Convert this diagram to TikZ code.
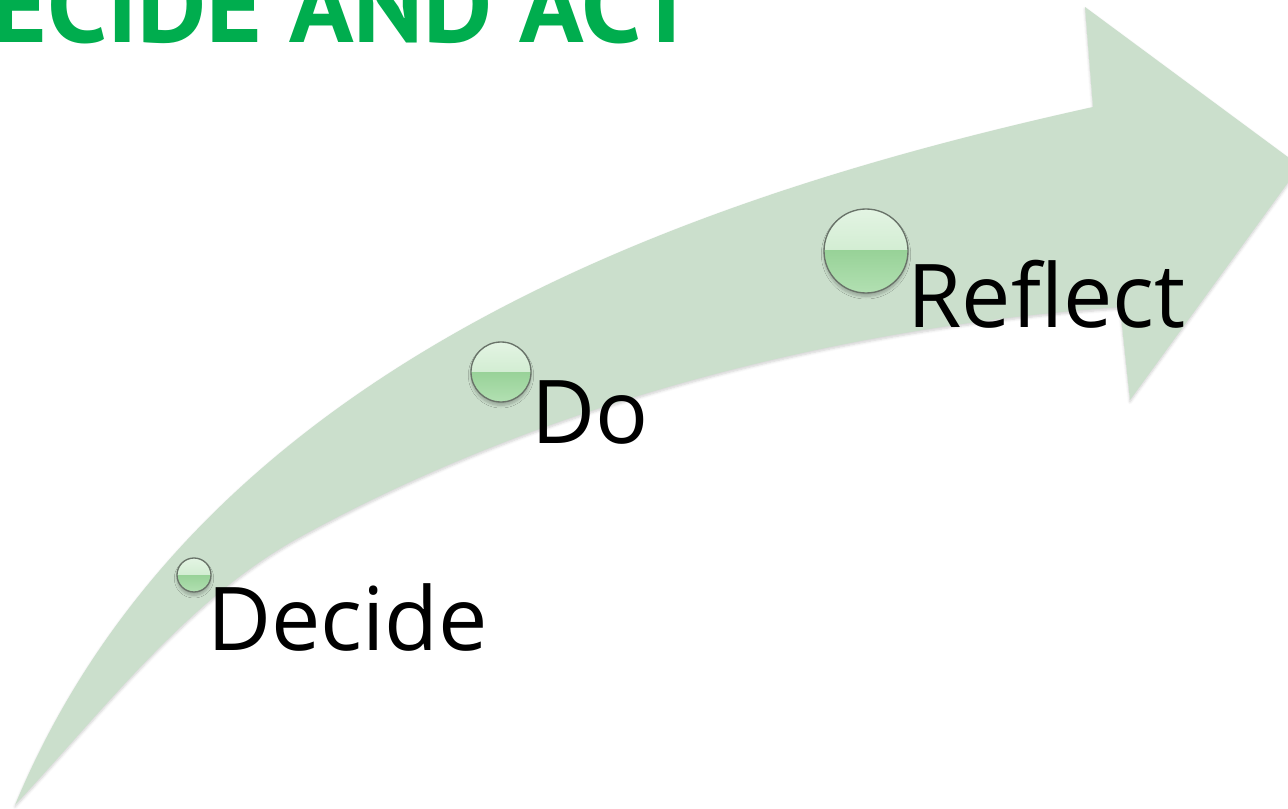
\documentclass[tikz,border=0pt]{standalone}
\usepackage{fontspec}
\setmainfont{Open Sans}
\newfontfamily\titlefont{PT Sans}
\usetikzlibrary{shadows.blur}
\definecolor{arrowgreen}{RGB}{203,223,204}
\definecolor{titlegreen}{RGB}{0,173,78}
\definecolor{balltop}{RGB}{227,244,227}
\definecolor{ballmid}{RGB}{194,230,194}
\definecolor{balllow}{RGB}{152,210,152}
\definecolor{ballbot}{RGB}{178,224,178}
\definecolor{ballrim}{RGB}{105,115,105}
\tikzset{
  ball/.style={circle, inner sep=0pt, minimum size=#1, draw=ballrim, line width=1pt,
    blur shadow={shadow xshift=0pt, shadow yshift=-2.5pt, shadow opacity=25, shadow blur steps=6, shadow blur radius=2pt},
    path picture={
      \fill[top color=balltop, bottom color=ballmid] (path picture bounding box.north west) rectangle (path picture bounding box.east);
      \fill[top color=balllow, bottom color=ballbot] (path picture bounding box.west) rectangle (path picture bounding box.south east);
    }},
  label/.style={font=\fontsize{66}{66}\selectfont, text=black, inner sep=0pt, anchor=base west},
  titletext/.style={font=\titlefont\bfseries\fontsize{80}{80}\selectfont, text=titlegreen, inner sep=0pt, anchor=base east}
}
\begin{document}
\begin{tikzpicture}[x=0.75pt,y=-0.75pt]
\useasboundingbox (0,0) rectangle (1288,809);
\begin{scope}
\clip (0,0) rectangle (1288,809);
\fill[arrowgreen, blur shadow={shadow xshift=0pt, shadow yshift=-1.5pt, shadow opacity=18, shadow blur steps=6, shadow blur radius=2pt}]
  (15,805) .. controls (200,360) and (697,194.5) .. (1093,107)
  -- (1085,7) -- (1300,166) -- (1130,400) -- (1120,307)
  .. controls (840,327) and (545,402) .. (300,537)
  .. controls (186,600) and (104,710) .. (15,805)
  -- cycle;
\node[titletext] (title) at (697,43) {DECIDE AND ACT};
\end{scope}
\node[ball=25.5pt] (b1) at (194,575) {};
\node[ball=45pt] (b2) at (501,372) {};
\node[ball=63pt] (b3) at (866,251) {};
\node[label] (decide) at (207,650) {Decide};
\node[label] (do) at (531,443) {Do};
\node[label] (reflect) at (907,327) {Reflect};
\end{tikzpicture}
\end{document}
